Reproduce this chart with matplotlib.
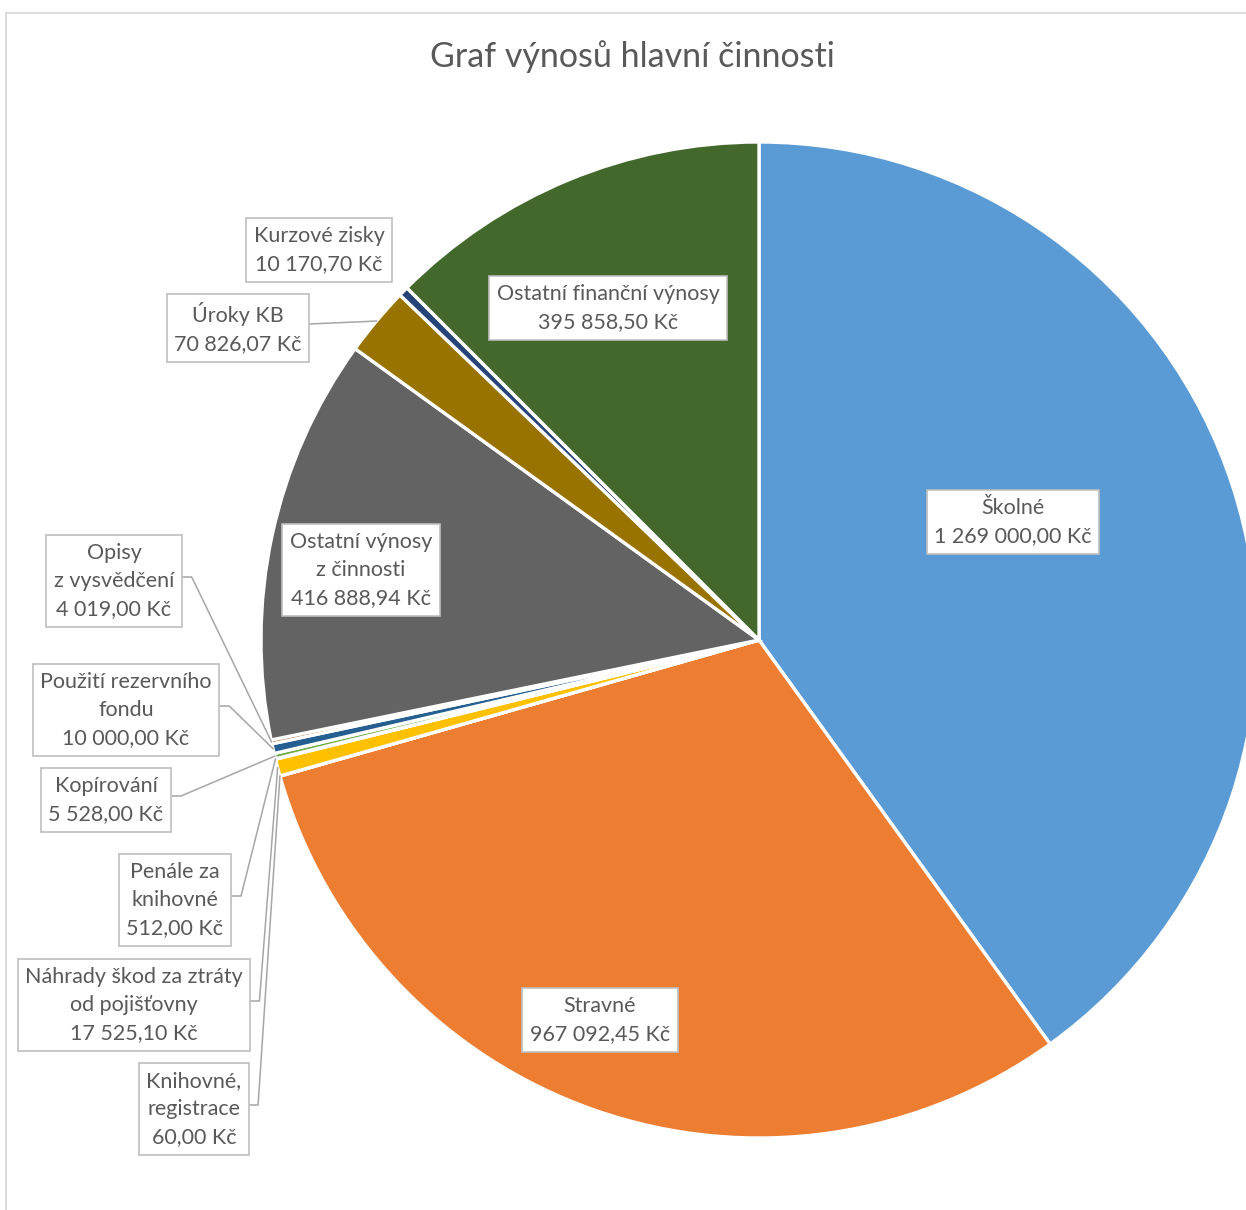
import numpy as np
import matplotlib
matplotlib.use("Agg")
import matplotlib.pyplot as plt
from matplotlib.lines import Line2D

# ---- data ----
categories = [
    "Školné",
    "Stravné",
    "Knihovné,\nregistrace",
    "Náhrady škod za ztráty\nod pojišťovny",
    "Penále za\nknihovné",
    "Kopírování",
    "Použití rezervního\nfondu",
    "Opisy\nz vysvědčení",
    "Ostatní výnosy\nz činnosti",
    "Úroky KB",
    "Kurzové zisky",
    "Ostatní finanční výnosy",
]
values = [
    1269000.00,
    967092.45,
    60.00,
    17525.10,
    512.00,
    5528.00,
    10000.00,
    4019.00,
    416888.94,
    70826.07,
    10170.70,
    395858.50,
]
colors = [
    "#5B9BD5", "#ED7D31", "#A5A5A5", "#FFC000", "#4472C4", "#70AD47",
    "#255E91", "#9E480E", "#636363", "#997300", "#264478", "#43682B",
]
title = "Graf výnosů hlavní činnosti"

# ---- layout (pixel coordinates, y measured from the top) ----
W, H = 1246, 1210
CX, CY, R = 759, 640, 498
# label centre and elbow length of the leader line (None = no leader)
label_pos = [
    (1013, 522, None),
    (600, 1020, None),
    (194, 1109, 9),
    (134, 1005, 9),
    (175, 900, 10),
    (106, 800, 10),
    (126, 710, 10),
    (114, 581, 10),
    (361, 570, None),
    (238, 328, 0),
    (319, 250, None),
    (608, 308, None),
]

TEXT = "#595959"
FONT = "Lato"


def money(v):
    s = f"{v:,.2f}".replace(",", " ").replace(".", ",")
    return s + " Kč"


fig = plt.figure(figsize=(W / 100, H / 100), dpi=100)
ax = fig.add_axes([0, 0, 1, 1])


def fy(y):
    return H - y


wedges, _ = ax.pie(
    values,
    colors=colors,
    startangle=90,
    counterclock=False,
    center=(CX, fy(CY)),
    radius=R,
    wedgeprops=dict(edgecolor="white", linewidth=2.4),
    frame=True,
)
ax.set_xlim(0, W)
ax.set_ylim(0, H)
ax.axis("off")

# chart area border (top and left edges visible)
ax.add_line(Line2D([6, W], [fy(12.5), fy(12.5)], color="#D9D9D9", lw=1.3))
ax.add_line(Line2D([6, 6], [fy(12.5), 0], color="#D9D9D9", lw=1.3))

ax.text(632, fy(57), title, ha="center", va="center", fontsize=24.5,
        color=TEXT, family=FONT)

texts = []
for i, (name, v) in enumerate(zip(categories, values)):
    x, y, _ = label_pos[i]
    t = ax.text(x, fy(y), f"{name}\n{money(v)}", ha="center", va="center",
                fontsize=15.5, color=TEXT, family=FONT, linespacing=1.5,
                bbox=dict(boxstyle="square,pad=0.35", fc="white",
                          ec="#BFBFBF", lw=1.2), zorder=5)
    texts.append(t)

fig.canvas.draw()
renderer = fig.canvas.get_renderer()
total = sum(values)
cum = 0.0
for i, v in enumerate(values):
    mid = cum + v / 2
    cum += v
    elbow = label_pos[i][2]
    if elbow is None:
        continue
    ang = np.deg2rad(90 - 360 * mid / total)
    ex = CX + R * np.cos(ang)
    ey = fy(CY) + R * np.sin(ang)
    bb = texts[i].get_bbox_patch().get_window_extent(renderer)
    bx = bb.x1
    by = (bb.y0 + bb.y1) / 2 + 4
    xs = [bx, bx + elbow, ex] if elbow else [bx, ex]
    ys = [by, by, ey] if elbow else [by, ey]
    ax.add_line(Line2D(xs, ys, color="#A6A6A6", lw=1.1, zorder=4))

fig.savefig("out.png", dpi=100)
